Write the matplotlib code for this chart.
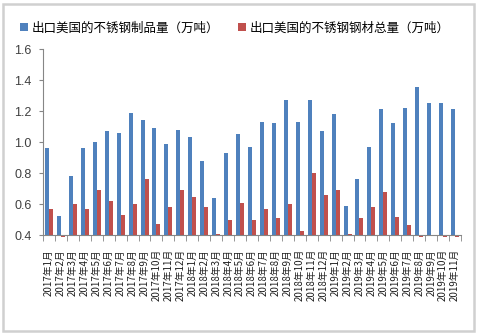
import matplotlib
matplotlib.use("Agg")
import matplotlib.pyplot as plt
import numpy as np
from matplotlib.patches import Rectangle

plt.rcParams['font.family'] = ['Noto Sans CJK SC', 'DejaVu Sans']

months = ["2017年%d月" % m for m in range(1, 13)] + \
         ["2018年%d月" % m for m in range(1, 13)] + \
         ["2019年%d月" % m for m in range(1, 12)]

products = [0.96, 0.52, 0.78, 0.96, 1.00, 1.07, 1.06, 1.19, 1.14, 1.09,
            0.99, 1.08, 1.03, 0.88, 0.64, 0.93, 1.05, 0.97, 1.13, 1.12,
            1.27, 1.13, 1.27, 1.07, 1.18, 0.59, 0.76, 0.97, 1.21, 1.12,
            1.22, 1.355, 1.25, 1.25, 1.21]
total = [0.57, 0.39, 0.60, 0.57, 0.69, 0.62, 0.53, 0.60, 0.76, 0.47,
         0.58, 0.69, 0.645, 0.58, 0.405, 0.50, 0.605, 0.50, 0.57, 0.51,
         0.60, 0.425, 0.80, 0.66, 0.69, 0.405, 0.51, 0.58, 0.68, 0.515,
         0.465, 0.39, 0.40, 0.39, 0.39]

label_a = "出口美国的不锈钢制品量（万吨）"
label_b = "出口美国的不锈钢钢材总量（万吨）"

blue = "#4F81BD"
red = "#C0504D"
axis_col = "#868686"

fig = plt.figure(figsize=(4.78, 3.34), dpi=100)
ax = fig.add_axes([43/478, 1 - 235/334, (461 - 43)/478, (235 - 49)/334])

x = np.arange(len(months))
w = 0.335
base = 0.4
ax.bar(x - w/2, np.array(products) - base, w, bottom=base, color=blue,
       label=label_a, clip_on=False, zorder=2)
ax.bar(x + w/2, np.array(total) - base, w, bottom=base, color=red,
       label=label_b, clip_on=False, zorder=2)

ax.set_xlim(-0.5, len(months) - 0.5)
ax.set_ylim(0.4, 1.6)
ax.set_yticks(np.arange(0.4, 1.61, 0.2))
ax.set_yticklabels(["%.1f" % v for v in np.arange(0.4, 1.61, 0.2)],
                   family='Liberation Sans', fontsize=9, color="#404040")

ax.set_xticks(x)
ax.set_xticklabels(months, rotation=90, fontsize=7, color="#202020")
ax.set_xticks(np.arange(-0.5, len(months), 1), minor=True)
ax.tick_params(axis='x', which='major', length=0, pad=10)
ax.tick_params(axis='x', which='minor', length=4, color=axis_col, direction='out')
ax.tick_params(axis='y', length=3, color=axis_col, direction='out', pad=5)

for s in ['top', 'right']:
    ax.spines[s].set_visible(False)
for s in ['left', 'bottom']:
    ax.spines[s].set_color(axis_col)
    ax.spines[s].set_zorder(3)

fig.legend(loc='center left', bbox_to_anchor=(20/478, 1 - 28/334), ncol=2,
           frameon=False, fontsize=9, handlelength=0.65, handleheight=0.65,
           handletextpad=0.3, columnspacing=1.45, borderpad=0, borderaxespad=0)

fig.patches.append(Rectangle((3/478, 3/334), 471/478, 327/334,
                             transform=fig.transFigure, fill=False,
                             edgecolor="#D0D0D0", lw=1.8))

fig.savefig("out.png", dpi=100)
